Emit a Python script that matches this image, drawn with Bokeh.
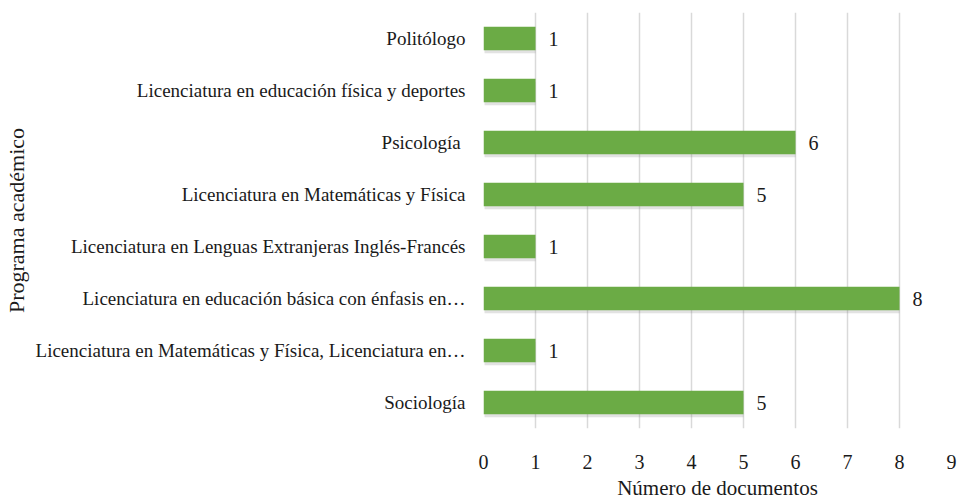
from bokeh.plotting import figure
from bokeh.models import FactorRange, Range1d, ColumnDataSource, FixedTicker, LabelSet
from bokeh.transform import dodge
from bokeh.embed import file_html
from bokeh.resources import INLINE
from bokeh.core.properties import value

programas = [
    "Politólogo",
    "Licenciatura en educación física y deportes",
    "Psicología ",
    "Licenciatura en Matemáticas y Física",
    "Licenciatura en Lenguas Extranjeras Inglés-Francés",
    "Licenciatura en educación básica con énfasis en…",
    "Licenciatura en Matemáticas y Física, Licenciatura en…",
    "Sociología",
]
documentos = [1, 1, 6, 5, 1, 8, 1, 5]
x_ticks = [0, 1, 2, 3, 4, 5, 6, 7, 8, 9]

FONT = "Liberation Serif"

src = ColumnDataSource(dict(
    programa=programas,
    docs=documentos,
    etiqueta=[str(v) for v in documentos],
))

p = figure(
    y_range=FactorRange(factors=programas[::-1]),
    x_range=Range1d(0, 9),
    width=963, height=502,
    output_backend="svg", toolbar_location=None,
    min_border_left=483, min_border_right=12, min_border_top=12, min_border_bottom=73,
)

# shadow
p.hbar(y=dodge("programa", -0.06, range=p.y_range), left=0.02, right="docs", height=0.45,
       source=src, fill_color="#7a7a7a", fill_alpha=0.22, line_color=None)
# bars
p.hbar(y="programa", left=0, right="docs", height=0.45, source=src,
       fill_color="#6BAB45", line_color=None)

labels = LabelSet(x="docs", y="programa", text="etiqueta", source=src,
                  x_offset=13, text_baseline="middle", text_align="left",
                  text_font=value(FONT), text_font_size="20px", text_color="#1a1a1a")
p.add_layout(labels)

p.xaxis.ticker = FixedTicker(ticks=x_ticks)
for ax in (p.xaxis[0], p.yaxis[0]):
    ax.axis_line_color = None
    ax.major_tick_line_color = None
    ax.minor_tick_line_color = None
    ax.major_label_text_font = FONT
    ax.axis_label_text_font = FONT
    ax.axis_label_text_font_style = "normal"
    ax.major_label_text_color = "#1a1a1a"
    ax.axis_label_text_color = "#1a1a1a"

p.xaxis.major_label_text_font_size = "20px"
p.xaxis.axis_label = "Número de documentos"
p.xaxis.axis_label_text_font_size = "21px"
p.xaxis.major_label_standoff = 20
p.xaxis.axis_label_standoff = 4

p.yaxis.major_label_text_font_size = "19px"
p.yaxis.axis_label = "Programa académico"
p.yaxis.axis_label_text_font_size = "22px"
p.yaxis.major_label_standoff = 12
p.yaxis.axis_label_standoff = 4

p.ygrid.grid_line_color = None
p.xgrid.grid_line_color = "#d9d9d9"
p.xgrid.grid_line_width = 1.5
p.outline_line_color = None

open("out.html", "w").write(file_html(p, INLINE))
